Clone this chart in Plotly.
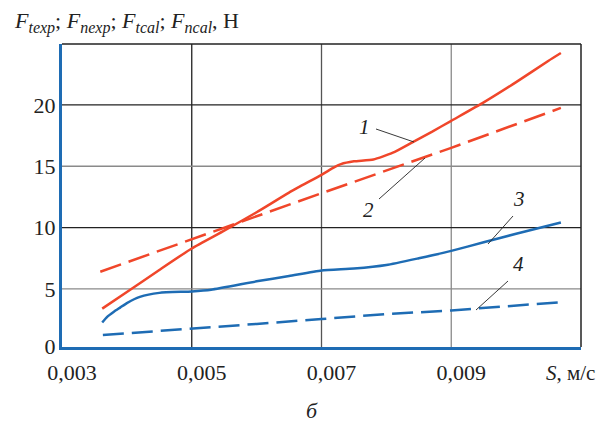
import plotly.graph_objects as go

# ---- data ----
x1 = [0.00362, 0.0040, 0.0045, 0.0050, 0.0055, 0.0060, 0.0065, 0.0070, 0.0072, 0.0073, 0.0075,
      0.0078, 0.0081, 0.0084, 0.0087, 0.0090, 0.0095, 0.0100, 0.0105, 0.01069]
y1 = [3.4, 4.75, 6.55, 8.3, 9.75, 11.25, 12.85, 14.3, 14.92, 15.17, 15.4,
      15.55, 16.1, 16.95, 17.8, 18.7, 20.2, 21.85, 23.6, 24.23]

x2 = [0.00359, 0.0050, 0.0070, 0.0090, 0.01069]
y2 = [6.4, 9.05, 12.8, 16.5, 19.75]

x3 = [0.00362, 0.0037, 0.0038, 0.0039, 0.0040, 0.0042, 0.0045, 0.0050, 0.0053, 0.0060,
      0.0065, 0.0070, 0.0075, 0.0080, 0.0085, 0.0090, 0.0095, 0.0100, 0.01069]
y3 = [2.27, 2.75, 3.15, 3.5, 3.85, 4.35, 4.68, 4.8, 4.94, 5.62,
      6.05, 6.5, 6.66, 6.95, 7.5, 8.1, 8.8, 9.5, 10.42]

x4 = [0.00363, 0.0050, 0.0060, 0.0070, 0.0080, 0.0090, 0.01069]
y4 = [1.25, 1.75, 2.15, 2.55, 2.95, 3.25, 3.92]

x_ticks = [0.003, 0.005, 0.007, 0.009]
x_ticktext = ["0,003", "0,005", "0,007", "0,009"]
y_ticks = [0.3, 5, 10, 15, 20]
y_ticktext = ["0", "5", "10", "15", "20"]
curve_labels = ["1", "2", "3", "4"]

RED = "#f0462a"
BLUE = "#1e6cb4"
INK = "#222222"
FONT = "Liberation Serif"

XR = [0.003, 0.011]
YR = [0.27, 24.96]
OFF = 8  # page body margin
W, H = 600, 422
L, R, T, B = 54, 27, 36, 83
PW, PH = W - L - R, H - T - B


def pxx(px):
    """screen x pixel -> paper coordinate"""
    return (px - OFF - L) / PW


def pxy(py):
    """screen y pixel -> paper coordinate"""
    return (T + PH - (py - OFF)) / PH


fig = go.Figure()
fig.add_trace(go.Scatter(x=x1, y=y1, mode="lines", line=dict(color=RED, width=2.5, shape="spline", smoothing=0.5)))
fig.add_trace(go.Scatter(x=x2, y=y2, mode="lines", line=dict(color=RED, width=2.5, dash="22px,8px")))
fig.add_trace(go.Scatter(x=x3, y=y3, mode="lines", line=dict(color=BLUE, width=2.5, shape="spline", smoothing=0.5)))
fig.add_trace(go.Scatter(x=x4, y=y4, mode="lines", line=dict(color=BLUE, width=2.5, dash="21px,8px")))

shapes = []
vgrid = [(0.005, "#222222"), (0.007, "#555555"), (0.009, "#8a8a8a")]
for xv, c in vgrid:
    shapes.append(dict(type="line", xref="x", yref="paper", x0=xv, x1=xv, y0=0, y1=1,
                       line=dict(color=c, width=1.3), layer="below"))
hgrid = [(5, "#8a8a8a"), (10, "#222222"), (15, "#8a8a8a"), (20, "#222222")]
for yv, c in hgrid:
    shapes.append(dict(type="line", xref="paper", yref="y", x0=0, x1=1, y0=yv, y1=yv,
                       line=dict(color=c, width=1.3), layer="below"))
shapes.append(dict(type="line", xref="paper", yref="paper", x0=0, x1=1, y0=1, y1=1,
                   line=dict(color=INK, width=1.5)))
shapes.append(dict(type="line", xref="paper", yref="paper", x0=1, x1=1, y0=0, y1=1,
                   line=dict(color=INK, width=1.5)))
leaders = [((376, 129), (414, 142)), ((379, 199), (425, 158)),
           ((513, 216), (488, 244)), ((508, 281), (476, 310))]
for (ax0, ay0), (ax1, ay1) in leaders:
    shapes.append(dict(type="line", xref="paper", yref="paper", x0=pxx(ax0), y0=pxy(ay0),
                       x1=pxx(ax1), y1=pxy(ay1), line=dict(color=INK, width=0.9)))

annotations = []


def add_text(px, py, text, size, xanchor="center"):
    annotations.append(dict(x=pxx(px), y=pxy(py), xref="paper", yref="paper", text=text,
                            xanchor=xanchor, yanchor="middle", showarrow=False,
                            font=dict(family=FONT, size=size, color=INK)))


label_pos = [(364, 127), (368, 210), (519, 199), (518, 264)]
for lab, (lx, ly) in zip(curve_labels, label_pos):
    add_text(lx, ly, "<i>" + lab + "</i>", 21)

SUB = '<sub><span style="font-size:16px"><i>{}</i></span></sub>'
title_txt = ("<i>F</i>" + SUB.format("texp") + "; <i>F</i>" + SUB.format("nexp") + "; <i>F</i>"
             + SUB.format("tcal") + "; <i>F</i>" + SUB.format("ncal") + ", Н")
add_text(12, 22, title_txt, 22, xanchor="left")
add_text(570, 373, "<i>S</i>, м/с", 21)
add_text(312, 410, "<i>б</i>", 22)

fig.update_layout(
    width=W, height=H,
    margin=dict(l=L, r=R, t=T, b=B),
    paper_bgcolor="white", plot_bgcolor="white",
    showlegend=False,
    shapes=shapes,
    annotations=annotations,
    xaxis=dict(range=XR, tickvals=x_ticks, ticktext=x_ticktext, showgrid=False, zeroline=False,
               showline=True, linecolor=BLUE, linewidth=3, ticks="", ticklabelstandoff=4,
               ticklabelshift=10,
               tickfont=dict(family=FONT, size=22, color=INK)),
    yaxis=dict(range=YR, tickvals=y_ticks, ticktext=y_ticktext, showgrid=False, zeroline=False,
               showline=True, linecolor=BLUE, linewidth=3, ticks="", ticklabelstandoff=-1,
               tickfont=dict(family=FONT, size=22, color=INK)),
)

fig.write_html("out.html")
